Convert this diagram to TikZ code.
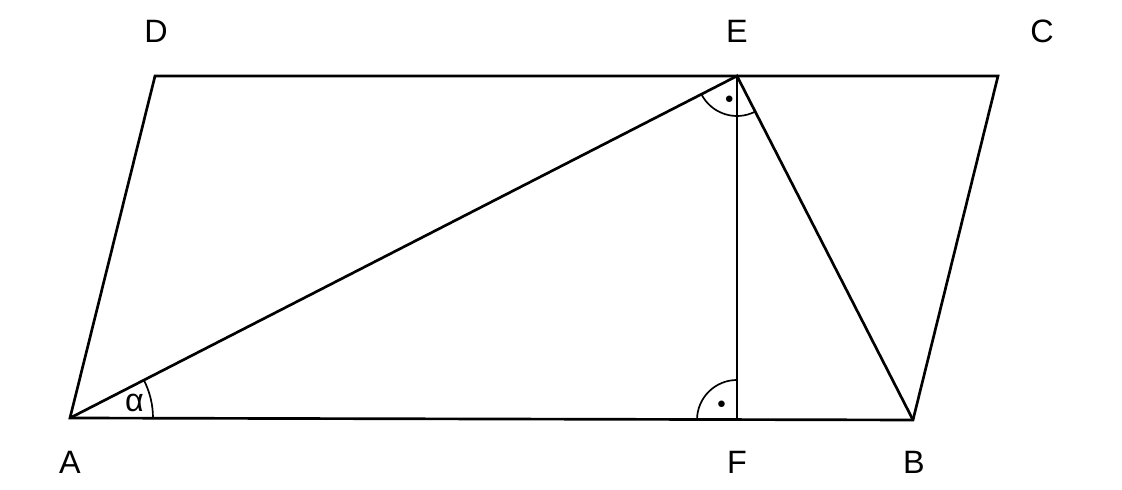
\documentclass[tikz,border=0pt]{standalone}
\usepackage{fontspec}
\setmainfont{Liberation Sans}
\usetikzlibrary{quotes,angles}

\begin{document}
\begin{tikzpicture}[line width=1.9pt,
    lbl/.style={font=\fontsize{23}{26}\selectfont},
    rmark/.style={draw, line width=1.2pt, angle radius=1cm, angle eccentricity=0.62,
      pic text={\fontsize{13}{13}\selectfont$\bullet$}}]
  \useasboundingbox (0,0) rectangle (28.05,12.25);
  \coordinate (A) at (1.75,1.8);
  \coordinate (B) at (22.825,1.75);
  \coordinate (C) at (24.95,10.35);
  \coordinate (D) at (3.875,10.35);
  \coordinate (E) at (18.425,10.35);
  \coordinate (F) at (18.425,1.75);
  \draw (A) -- (B) -- (C) -- (D) -- cycle;
  \draw (A) -- (E) -- (B);
  \draw (E) -- (F);
  \pic[draw, line width=1.2pt, angle radius=2.075cm, angle eccentricity=0.8,
    "{\fontsize{23}{26}\selectfont α}"] {angle=B--A--E};
  \pic[rmark] {angle=A--E--B};
  \pic[rmark, angle eccentricity=0.55] {angle=E--F--A};
  \node[lbl] (lD) at (3.9,11.475) {D};
  \node[lbl] (lE) at (18.425,11.475) {E};
  \node[lbl] (lC) at (26.05,11.475) {C};
  \node[lbl] (lA) at (1.75,0.7) {A};
  \node[lbl] (lF) at (18.425,0.7) {F};
  \node[lbl] (lB) at (22.85,0.7) {B};
\end{tikzpicture}
\end{document}
